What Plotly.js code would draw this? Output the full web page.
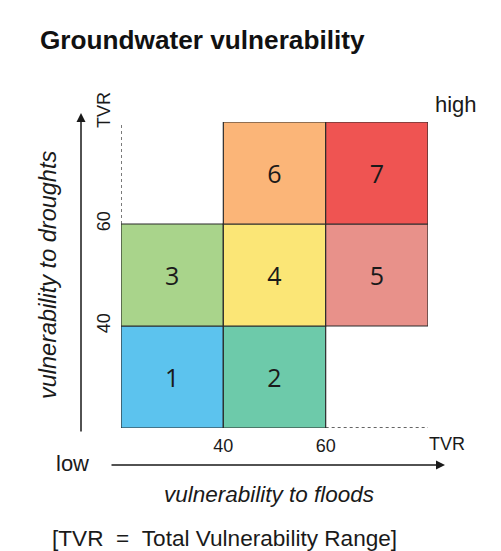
<!DOCTYPE html>
<html>
<head>
<meta charset="utf-8">
<script src="https://cdn.plot.ly/plotly-3.0.1.min.js"></script>
<style>html,body{margin:0;padding:0;background:#fff;}#chart{width:501px;height:551px;}</style>
</head>
<body>
<div id="chart"></div>
<script>
// Vulnerability classes (cell labels)
const classLabels = ['1', '2', '3', '4', '5', '6', '7'];
// Vulnerability to floods: lower / upper bound of each cell
const floodLower = [20, 40, 20, 40, 60, 40, 60];
const floodUpper = [40, 60, 40, 60, 80, 60, 80];
// Vulnerability to droughts: lower / upper bound of each cell
const droughtLower = [20, 20, 40, 40, 40, 60, 60];
const droughtUpper = [40, 40, 60, 60, 60, 80, 80];
// Class colours
const classColors = ['#5cc3ee', '#6dcaaa', '#a9d48b', '#fbe676', '#e8918a', '#fbb578', '#ef5452'];
// Axis ticks
const thresholdTicks = [40, 60];
const thresholdTickText = ['40', '60'];
const axisMin = 20, axisMax = 80;

const cells = {
  type: 'bar',
  x: floodLower.map((v, i) => (v + floodUpper[i]) / 2),
  width: floodLower.map((v, i) => floodUpper[i] - v),
  base: droughtLower,
  y: droughtLower.map((v, i) => droughtUpper[i] - v),
  text: classLabels,
  textposition: 'inside',
  insidetextanchor: 'middle',
  constraintext: 'none',
  textangle: 0,
  textfont: {family: 'Open Sans, sans-serif', size: 25, color: '#1a1a1a'},
  marker: {color: classColors, line: {color: '#2b2b2b', width: 1.2}},
  hoverinfo: 'skip',
  showlegend: false
};

const dotV = {
  type: 'scatter', mode: 'lines',
  x: [axisMin, axisMin], y: [thresholdTicks[1], axisMax],
  line: {color: '#333', width: 1.3, dash: 'dot'},
  cliponaxis: false, hoverinfo: 'skip', showlegend: false
};
const dotH = {
  type: 'scatter', mode: 'lines',
  x: [thresholdTicks[1], axisMax], y: [axisMin, axisMin],
  line: {color: '#333', width: 1.3, dash: 'dot'},
  cliponaxis: false, hoverinfo: 'skip', showlegend: false
};

const txtFont = {family: 'Liberation Sans, Arial, sans-serif', color: '#1a1a1a'};
const px = v => (v - 121) / 307;   // page pixel -> paper x
const py = v => (428 - v) / 306;   // page pixel -> paper y
function label(xp, yp, text, size, extra) {
  return Object.assign({
    xref: 'paper', yref: 'paper', x: px(xp), y: py(yp), text: text, showarrow: false,
    xanchor: 'center', yanchor: 'middle',
    font: Object.assign({}, txtFont, {size: size})
  }, extra || {});
}

const layout = {
  width: 501, height: 551,
  margin: {l: 121, r: 73, t: 122, b: 123},
  paper_bgcolor: '#fff', plot_bgcolor: '#fff',
  title: {
    text: 'Groundwater vulnerability',
    xref: 'container', x: 40 / 501, xanchor: 'left',
    yref: 'container', y: 1 - 40 / 551, yanchor: 'middle',
    font: Object.assign({}, txtFont, {size: 26.2, weight: 'bold', color: '#111'})
  },
  bargap: 0,
  xaxis: {
    range: [axisMin, axisMax], showgrid: false, zeroline: false, showline: false,
    tickvals: thresholdTicks, ticktext: thresholdTickText, ticks: '',
    ticklabelstandoff: 5,
    tickfont: Object.assign({}, txtFont, {size: 18}),
    fixedrange: true
  },
  yaxis: {
    range: [axisMin, axisMax], showgrid: false, zeroline: false, showline: false,
    tickvals: thresholdTicks, ticktext: thresholdTickText, ticks: '',
    tickangle: -90, ticklabelstandoff: 6,
    tickfont: Object.assign({}, txtFont, {size: 18}),
    fixedrange: true
  },
  annotations: [
    label(447, 444, 'TVR', 18),
    label(104, 110, 'TVR', 18, {textangle: -90}),
    label(456, 104, 'high', 22),
    label(72, 463, 'low', 22),
    label(269, 494, 'vulnerability to floods', 22.5, {font: Object.assign({}, txtFont, {size: 22.5, style: 'italic'})}),
    label(48, 275, 'vulnerability to droughts', 23.5, {textangle: -90, font: Object.assign({}, txtFont, {size: 23.5, style: 'italic'})}),
    label(224, 538, '[TVR\u00a0\u00a0=\u00a0\u00a0Total Vulnerability Range]', 22.6),
    // arrows
    {xref: 'paper', yref: 'paper', x: px(81), y: py(113), text: '', showarrow: true,
     axref: 'pixel', ayref: 'pixel', ax: 0, ay: 320, arrowhead: 2, arrowsize: 1.2, arrowwidth: 1.5, arrowcolor: '#1a1a1a', standoff: 0},
    {xref: 'paper', yref: 'paper', x: px(445), y: py(465), text: '', showarrow: true,
     axref: 'pixel', ayref: 'pixel', ax: -335, ay: 0, arrowhead: 2, arrowsize: 1.2, arrowwidth: 1.5, arrowcolor: '#1a1a1a', standoff: 0}
  ]
};

Plotly.newPlot('chart', [cells, dotV, dotH], layout, {displayModeBar: false, staticPlot: true});
</script>
</body>
</html>
